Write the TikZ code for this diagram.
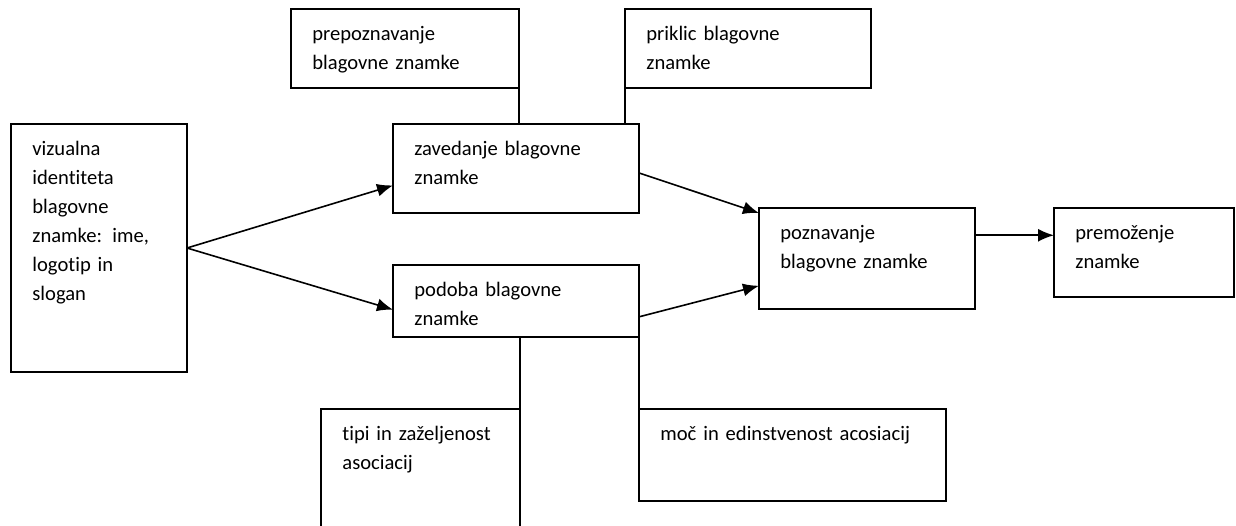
\documentclass[tikz,border=0pt]{standalone}
\usepackage{fontspec}
\setmainfont{Carlito}[RawFeature={-liga;-clig;-calt;-dlig}]
\usetikzlibrary{arrows.meta,calc}
\tikzset{>={Latex[length=8pt,width=6.5pt]}}
\tikzset{box/.style={draw,line width=0.8pt,anchor=north west,inner sep=0pt,outer sep=0pt},
  txt/.style={anchor=base west,inner sep=0pt,align=left,text width=150pt,
    font=\fontsize{10.3}{14.5}\selectfont},
  link/.style={line width=0.8pt}}

\begin{document}
\begin{tikzpicture}[x=0.5pt,y=-0.5pt]
       \clip (0,0) rectangle (1236,525);
       % boxes
       \node[box,minimum width=88pt,minimum height=124pt] (viz) at (11,124) {};
       \node[box,minimum width=114pt,minimum height=39.5pt] (prep) at (291,9) {};
       \node[box,minimum width=123pt,minimum height=39.5pt] (prik) at (625,9) {};
       \node[box,minimum width=123pt,minimum height=44.5pt] (zav) at (393,124) {};
       \node[box,minimum width=123pt,minimum height=36pt] (pod) at (393,265) {};
       \node[box,minimum width=108pt,minimum height=50.5pt] (pozn) at (759,208) {};
       \node[box,minimum width=90pt,minimum height=44.5pt] (prem) at (1054,208) {};
       \node[box,minimum width=99.5pt,minimum height=70pt] (tipi) at (321,409) {};
       \node[box,minimum width=153.5pt,minimum height=46pt] (moc) at (639,409) {};
       % texts
       \node[txt] (vizt) at ([xshift=10.5pt,yshift=-15.75pt]viz.north west) {vizualna\\identiteta\\blagovne\\znamke: ime,\\logotip in\\slogan};
       \node[txt] (prept) at ([xshift=10.5pt,yshift=-15.75pt]prep.north west) {prepoznavanje\\blagovne znamke};
       \node[txt] (prikt) at ([xshift=10.5pt,yshift=-15.75pt]prik.north west) {priklic blagovne\\znamke};
       \node[txt] (zavt) at ([xshift=10.5pt,yshift=-15.75pt]zav.north west) {zavedanje blagovne\\znamke};
       \node[txt] (podt) at ([xshift=10.5pt,yshift=-15.75pt]pod.north west) {podoba blagovne\\znamke};
       \node[txt] (poznt) at ([xshift=10.5pt,yshift=-15.75pt]pozn.north west) {poznavanje\\blagovne znamke};
       \node[txt] (premt) at ([xshift=10.5pt,yshift=-15.75pt]prem.north west) {premoženje\\znamke};
       \node[txt] (tipit) at ([xshift=10.5pt,yshift=-15.75pt]tipi.north west) {tipi in zaželjenost\\asociacij};
       \node[txt] (moct) at ([xshift=10.5pt,yshift=-15.75pt]moc.north west) {moč in edinstvenost acosiacij};
       % arrows
       \coordinate (poznout) at ($(pozn.north east)!0.27!(pozn.south east)$);
       \draw[link,->] (viz.east) -- ($(zav.north west)!0.69!(zav.south west)$);
       \draw[link,->] (viz.east) -- ($(pod.north west)!0.62!(pod.south west)$);
       \draw[link,->] ($(zav.north east)!0.55!(zav.south east)$) -- ($(pozn.north west)!0.05!(pozn.south west)$);
       \draw[link,->] ($(pod.north east)!0.72!(pod.south east)$) -- ($(pozn.north west)!0.77!(pozn.south west)$);
       \draw[link,->] (poznout) -- (poznout -| prem.west);
       % plain links
       \draw[link] (prep.south east) -- (prep.south east |- zav.north);
       \draw[link] (prik.south west) -- (prik.south west |- zav.north);
       \draw[link] (tipi.north east |- pod.south) -- (tipi.north east);
       \draw[link] (pod.south east) -- (moc.north west);
      \end{tikzpicture}
\end{document}
